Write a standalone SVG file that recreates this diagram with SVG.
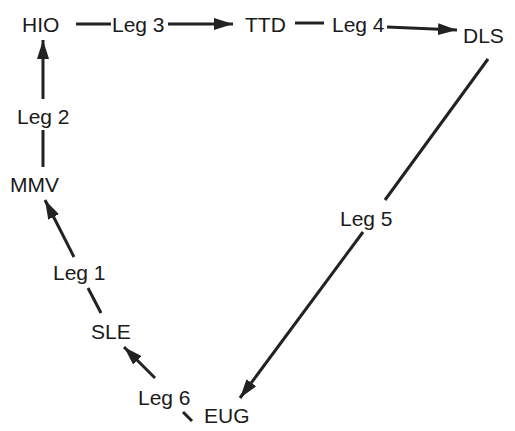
<svg xmlns="http://www.w3.org/2000/svg" width="515" height="431" viewBox="0 0 515 431">
<style>
.lbl{font-family:"Liberation Sans",Arial,sans-serif;font-size:21px;fill:#1a1a1a}
.ln{stroke:#222;stroke-width:3;fill:none;stroke-linecap:butt}
</style>
<defs>
<marker id="ah" markerUnits="userSpaceOnUse" markerWidth="20" markerHeight="12" refX="19" refY="6" orient="auto">
<path d="M0,0 L19,6 L0,12 z" fill="#222"/>
</marker>
</defs>
<rect width="515" height="431" fill="#fff"/>
<g id="connectors">
<line class="ln" x1="76" y1="24" x2="111" y2="24"/>
<line class="ln" x1="168" y1="24" x2="233" y2="24" marker-end="url(#ah)"/>
<line class="ln" x1="295" y1="23" x2="324" y2="23"/>
<line class="ln" x1="387" y1="27" x2="457" y2="30" marker-end="url(#ah)"/>
<line class="ln" x1="488" y1="59" x2="385" y2="200"/>
<line class="ln" x1="363" y1="232" x2="240" y2="398" marker-end="url(#ah)"/>
<line class="ln" x1="183" y1="412" x2="192" y2="421"/>
<line class="ln" x1="155" y1="378" x2="124" y2="347" marker-end="url(#ah)"/>
<line class="ln" x1="101" y1="313" x2="88" y2="288"/>
<line class="ln" x1="74" y1="257" x2="45" y2="200" marker-end="url(#ah)"/>
<line class="ln" x1="43" y1="167" x2="43" y2="130"/>
<line class="ln" x1="43" y1="99" x2="43" y2="40" marker-end="url(#ah)"/>
</g>
<g id="labels">
<text class="lbl" x="112" y="32">Leg 3</text>
<text class="lbl" x="332" y="32">Leg 4</text>
<text class="lbl" x="340" y="226">Leg 5</text>
<text class="lbl" x="138" y="405">Leg 6</text>
<text class="lbl" x="53" y="280">Leg 1</text>
<text class="lbl" x="17" y="124">Leg 2</text>
</g>
<g id="node-HIO"><text class="lbl" x="22" y="32">HIO</text></g>
<g id="node-TTD"><text class="lbl" x="245" y="32">TTD</text></g>
<g id="node-DLS"><text class="lbl" x="463" y="43">DLS</text></g>
<g id="node-EUG"><text class="lbl" x="204" y="423">EUG</text></g>
<g id="node-SLE"><text class="lbl" x="91" y="339">SLE</text></g>
<g id="node-MMV"><text class="lbl" x="10" y="192">MMV</text></g>
</svg>
